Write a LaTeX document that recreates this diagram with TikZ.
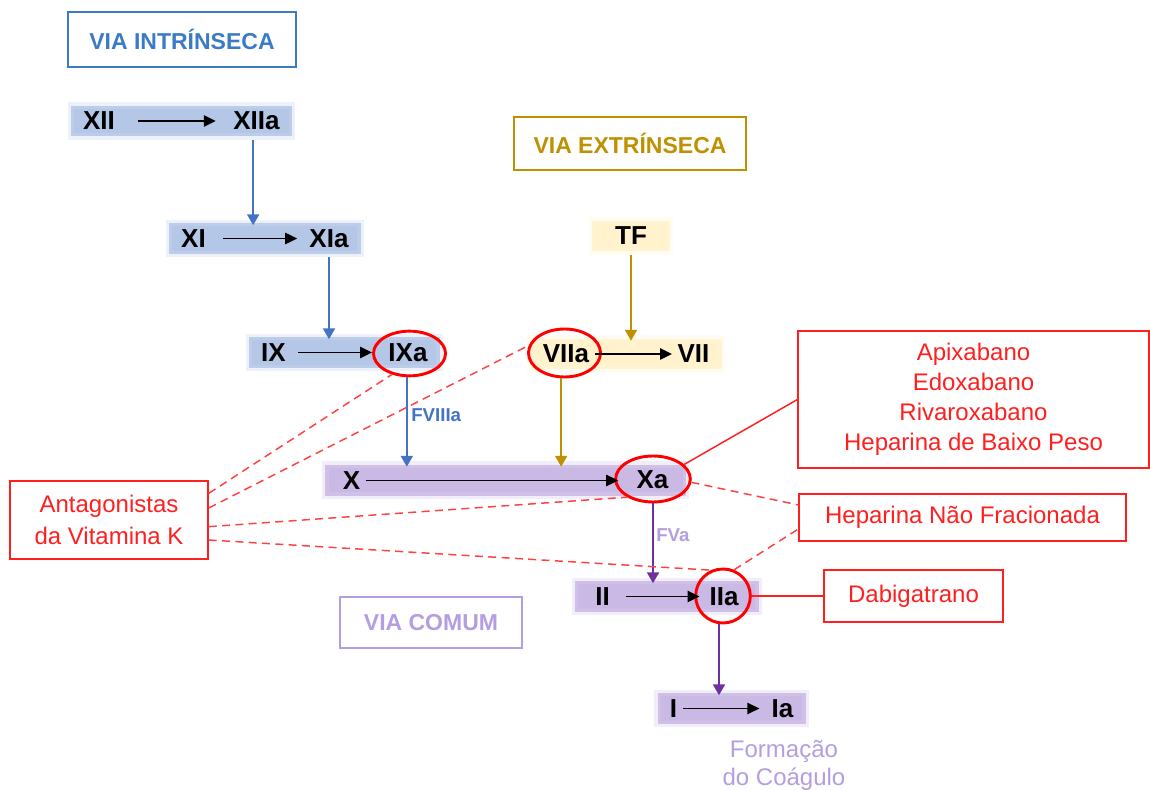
\documentclass[tikz,border=0pt]{standalone}
\usepackage{fontspec}
\setmainfont{Liberation Sans}
\usetikzlibrary{shapes.geometric, arrows.meta, positioning, fit, backgrounds}

\definecolor{intblue}{HTML}{4472C4}
\definecolor{titleblue}{HTML}{3B7BC6}
\definecolor{bandblue}{HTML}{B4C7E7}
\definecolor{extgold}{HTML}{BF9000}
\definecolor{bandgold}{HTML}{FFF2CC}
\definecolor{comviolet}{HTML}{7030A0}
\definecolor{bandviolet}{HTML}{CBB9E5}
\definecolor{lightviolet}{HTML}{B49DE0}
\definecolor{drugred}{HTML}{FF1F1F}

\begin{document}
\begin{tikzpicture}[
    x=0.75pt, y=-0.75pt,
    factor/.style={font=\fontsize{19.5}{20}\selectfont\bfseries, inner sep=1pt},
    title/.style={draw=#1, text=#1, line width=1.5pt, inner sep=0pt, font=\fontsize{17.25}{20}\selectfont\bfseries},
    band/.style={fill=#1, draw=#1!70, draw opacity=0.35, line width=5pt, inner xsep=8pt, inner ysep=3.5pt},
    ring/.style={ellipse, draw=red, line width=2.2pt, inner sep=0pt},
    drug/.style={draw=drugred, text=drugred, line width=1.1pt, align=center, inner sep=0pt, font=\fontsize{18}{22.5}\selectfont},
    conv/.style={-{Triangle[length=9pt, width=8.5pt]}, line width=1.1pt},
    flow/.style={draw=#1, -{Triangle[length=8pt, width=9pt]}, line width=1.1pt, shorten >=-4pt},
    cofactor/.style={font=\fontsize{14}{16}\selectfont\bfseries, inner sep=0pt, anchor=west},
    block/.style={draw=drugred!85, line width=1.1pt, dash pattern=on 6pt off 4pt},
    hit/.style={draw=drugred, line width=1.1pt}
  ]
  \useasboundingbox (0,0) rectangle (1150,791);

  % titulos das vias
  \node[title=titleblue, minimum width=171pt, minimum height=41pt] (intr) at (182,39.5) {VIA INTRÍNSECA};
  \node[title=extgold, minimum width=174pt, minimum height=40pt] (extr) at (630,143.5) {VIA EXTRÍNSECA};
  \node[title=lightviolet, minimum width=136.5pt, minimum height=38pt] (comum) at (431,622.5) {VIA COMUM};

  % fatores
  \node[factor] (xii) at (99,121) {XII};
  \node[factor] (xiia) at (256.5,121) {XIIa};
  \node[factor] (xi) at (193.5,238.5) {XI};
  \node[factor] (xia) at (329,238.5) {XIa};
  \node[factor] (ix) at (273.5,352.5) {IX};
  \node[factor] (ixa) at (408,352.5) {IXa};
  \node[factor] (tf) at (631,236) {TF};
  \node[factor] (viia) at (566,354) {VIIa};
  \node[factor] (vii) at (693.5,354) {VII};
  \node[factor] (x) at (351.5,480.5) {X};
  \node[factor] (xa) at (652.5,480) {Xa};
  \node[factor] (ii) at (602.5,596.5) {II};
  \node[factor] (iia) at (724,596.5) {IIa};
  \node[factor] (i) at (673.5,708.5) {I};
  \node[factor] (ia) at (782.5,708.5) {Ia};

  % faixas
  \begin{scope}[on background layer]
    \node[band=bandblue, fit=(xii)(xiia)] (xiiband) {};
    \node[band=bandblue, fit=(xi)(xia)] (xiband) {};
    \node[band=bandblue, fit=(ix)(ixa)] (ixband) {};
    \node[band=bandgold, fit=(tf), inner xsep=16pt] (tfband) {};
    \node[band=bandgold, fit=(viia)(vii)] (viiband) {};
    \node[band=bandviolet, fit=(x)(xa), inner xsep=12pt] (xband) {};
    \node[band=bandviolet, fit=(ii)(iia), inner xsep=14pt] (iiband) {};
    \node[band=bandviolet, fit=(i)(ia)] (iband) {};
  \end{scope}

  % fatores ativados alvo
  \node[ring, minimum width=54pt, minimum height=33.5pt] (ixaring) at (409.5,353.5) {};
  \node[ring, minimum width=54pt, minimum height=36pt] (viiaring) at (564.5,353) {};
  \node[ring, minimum width=56pt, minimum height=34.5pt] (xaring) at (653,479) {};
  \node[ring, minimum width=41pt, minimum height=40.5pt] (iiaring) at (723,596) {};

  % ativacoes
  \draw[conv, shorten <=16pt, shorten >=12pt] (xii) -- (xiia);
  \draw[conv, shorten <=12pt, shorten >=8pt] (xi) -- (xia);
  \draw[conv, shorten <=8pt] (ix) -- (ix -| ixaring.west);
  \draw[conv, shorten <=3pt, shorten >=-3pt] (x) -- (x -| xaring.west);
  \draw[conv, shorten <=-5pt, shorten >=3pt] (vii -| viiaring.east) -- (vii);
  \draw[conv, shorten <=11pt, shorten >=-4pt] (ii) -- (ii -| iiaring.west);
  \draw[conv, shorten <=3.5pt, shorten >=8pt] (i) -- (ia);

  \draw[flow=intblue] ([xshift=-2.5pt]xiia.south |- xiiband.south) -- ([xshift=-2.5pt]xiia.south |- xiband.north);
  \draw[flow=intblue] (xia |- xiband.south) -- (xia |- ixband.north);
  \draw[flow=intblue] ([xshift=-2pt]ixaring.south) -- ([xshift=-2pt]ixaring.south |- xband.north);
  \draw[flow=extgold] (tf |- tfband.south) -- (tf |- viiband.north);
  \draw[flow=extgold] ([xshift=-2.5pt]viiaring.south) -- ([xshift=-2.5pt]viiaring.south |- xband.north);
  \draw[flow=comviolet] (xaring.south) -- (xaring.south |- iiband.north);
  \draw[flow=comviolet] ([xshift=-3pt]iiaring.south) -- ([xshift=-3pt]iiaring.south |- iband.north);

  \node[cofactor, text=intblue] (fviii) at (411,415) {FVIIIa};
  \node[cofactor, text=lightviolet] (fv) at (656,535) {FVa};
  \node[text=lightviolet, align=center, font=\fontsize{18}{21}\selectfont] (clot) at (784,765) {Formação\\do Coágulo};

  % anticoagulantes
  \node[drug, minimum width=148.5pt, minimum height=58.5pt, font=\fontsize{18}{24}\selectfont] (antag) at (109,520) {Antagonistas\\da Vitamina K};
  \node[drug, minimum width=263pt, minimum height=103pt] (apix) at (973.5,399.5) {Apixabano\\Edoxabano\\Rivaroxabano\\Heparina de Baixo Peso};
  \node[drug, minimum width=245pt, minimum height=35pt] (hnf) at (962.5,517.5) {Heparina Não Fracionada};
  \node[drug, minimum width=134pt, minimum height=39pt] (dabi) at (913.5,596) {Dabigatrano};

  \draw[block] ([yshift=20pt]antag.east) -- (ixaring.230);
  \draw[block] ([yshift=9pt]antag.east) -- (viiaring.168);
  \draw[block] ([yshift=-5pt]antag.east) -- (xaring.215);
  \draw[block] ([yshift=-15pt]antag.east) -- (iiaring.115);
  \draw[hit] (xaring.25) -- (apix.west);
  \draw[block] (xaring.-5) -- ([yshift=9.4pt]hnf.west);
  \draw[block] (iiaring.67) -- ([yshift=-8.6pt]hnf.west);
  \draw[hit] (iiaring.east) -- (dabi.west);
\end{tikzpicture}
\end{document}
